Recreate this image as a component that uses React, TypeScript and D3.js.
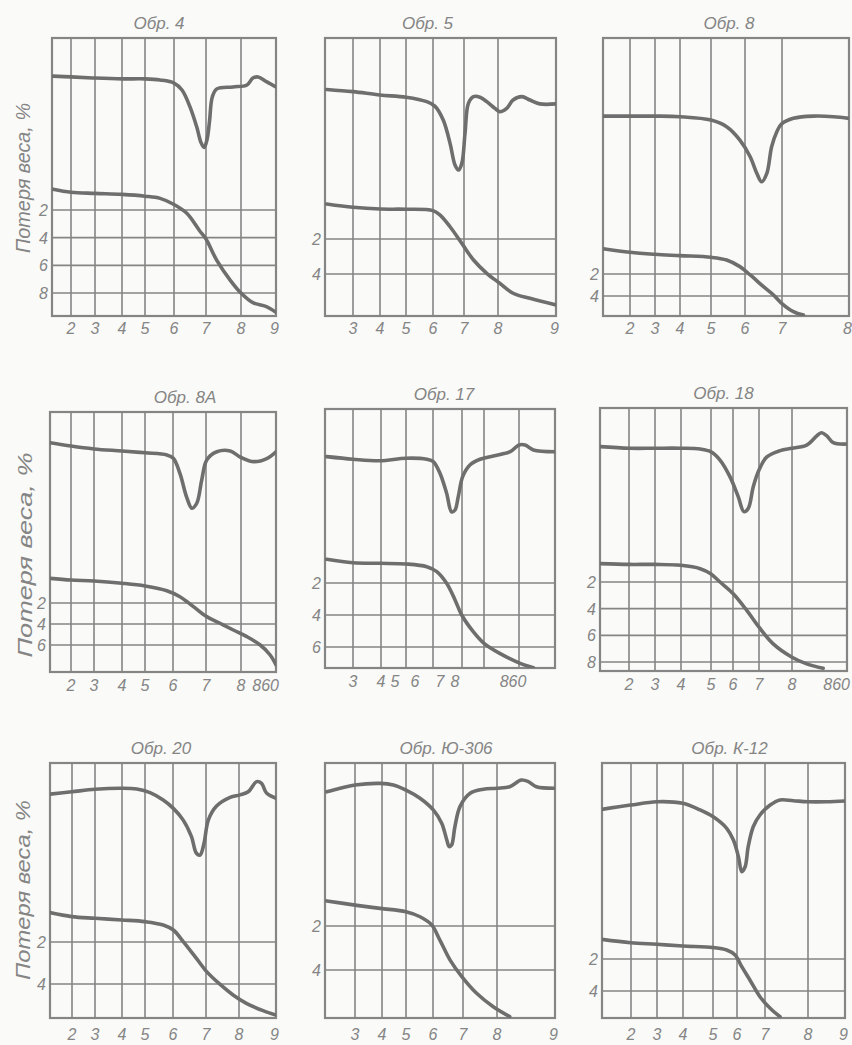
import React from 'react'
import * as d3 from 'd3'

// temperature in hundreds of °C; DTA in relative units (0 = frame bottom, 100 = frame top); TG in % weight loss
const dta4 = [[1.24,86.3],[2,86],[3,85.6],[4,85.3],[5,85.3],[5.52,84.9],[6,83.8],[6.25,81.3],[6.5,75.2],[6.72,67.6],[6.84,62.5],[6.94,60.6],[7.03,63.5],[7.1,70],[7.18,78.8],[7.31,81.7],[7.77,82.4],[8.17,83.1],[8.34,85.6],[8.49,86],[8.74,84.2],[9,82.4]]
const tg4 = [[1.24,0.5],[2,0.72],[3,0.8],[4,0.87],[5,1],[5.52,1.16],[6,1.6],[6.4,2.24],[6.8,3.5],[7,4.1],[7.3,5.6],[7.7,7.1],[8,8],[8.34,8.7],[8.74,9],[9,9.4]]

const dta5 = [[2.06,81.5],[3,80.7],[4,79.5],[5,78.7],[5.77,77.1],[6.06,75.5],[6.33,70.5],[6.55,62.1],[6.71,54.3],[6.82,52.5],[6.93,54.9],[7.03,65.7],[7.13,76.5],[7.28,78.9],[7.47,78.7],[7.67,77.1],[7.91,74.7],[8.03,73.5],[8.15,74.7],[8.26,77.7],[8.41,78.9],[8.55,77.7],[8.72,76.3],[9,76.3]]
const tg5 = [[2.06,0],[3,0.19],[4,0.29],[5,0.3],[6,0.38],[6.23,0.63],[6.55,1.3],[6.93,2.25],[7.28,3.2],[7.67,3.96],[8.03,4.53],[8.26,5.1],[8.55,5.39],[9,5.77]]

const dta8 = [[1.01,71.9],[2,71.9],[3,71.9],[4,71.7],[5,70.5],[5.46,68.1],[5.85,63.3],[6.14,57.3],[6.32,51.3],[6.45,48.3],[6.59,51.3],[6.72,60.9],[6.86,66.3],[6.99,69.1],[7.17,71.1],[7.47,71.9],[7.77,71.7],[8,71.1]]
const tg8 = [[1.01,-0.3],[2,0.03],[3,0.21],[4,0.33],[5,0.48],[5.46,0.73],[5.85,1.33],[6.14,2.09],[6.5,3.15],[6.77,3.91],[6.99,4.66],[7.17,5.42],[7.32,5.73]]

const dta8a = [[1.2,88.2],[2,86.9],[3,85.8],[4,85],[5,84.3],[5.78,83.5],[6.01,82.2],[6.21,76.4],[6.41,67.4],[6.57,63],[6.72,64.9],[6.87,73.8],[7.02,81.5],[7.31,84.7],[7.69,85],[7.99,82.6],[8.22,80.9],[8.45,82.2],[8.6,84.7]]
const tg8a = [[1.2,-0.35],[2,-0.19],[3,-0.1],[4,0.12],[5,0.38],[5.78,0.83],[6.21,1.4],[6.62,2.35],[7.02,3.3],[7.4,3.93],[7.78,4.57],[8.1,5.2],[8.33,6],[8.5,6.95],[8.6,7.9]]

const dta17 = [[2.06,81.6],[3,80.6],[3.96,80],[5,81],[5.77,80.6],[6.01,79.7],[6.24,75.2],[6.47,67.5],[6.64,60.3],[6.76,61],[6.87,66.1],[7.03,73.9],[7.36,78.4],[7.82,80.6],[8.16,81.9],[8.45,83.5],[8.6,86.1],[8.7,86.1],[8.84,84.2],[9.2,83.5]]
const tg17 = [[2.06,0.52],[3,0.73],[3.96,0.77],[5,0.81],[5.77,0.98],[6.13,1.29],[6.47,2.02],[6.76,3.06],[6.99,4],[7.51,5.04],[8,5.77],[8.27,6.4],[8.62,7.02],[8.84,7.29]]

const dta18 = [[1,85.3],[2.01,84.7],[3,84.7],[3.99,84.7],[4.64,84.4],[4.99,83.4],[5.41,80.2],[5.86,73.9],[6.2,66.3],[6.42,60.6],[6.59,61.9],[6.78,70.1],[7,76.4],[7.23,81.3],[7.64,83.8],[8,84.7],[8.16,85.9],[8.27,89.4],[8.32,90.6],[8.38,89.4],[8.45,86.8],[8.6,86.3]]
const tg18 = [[1,0.62],[2.01,0.68],[3,0.68],[3.99,0.75],[4.64,1],[4.99,1.38],[5.41,2],[6.01,2.88],[6.53,4.13],[7,5.39],[7.43,6.64],[8,7.64],[8.16,8.14],[8.34,8.47]]

const dta20 = [[1.2,87.8],[1.99,88.7],[3,89.7],[3.99,90.1],[4.64,89.8],[5.18,88.4],[5.65,85.5],[6.01,82.2],[6.31,77.6],[6.56,71.1],[6.71,64.6],[6.82,63.9],[6.94,68.5],[7.07,77.6],[7.32,83.1],[7.73,86.5],[8.03,87.5],[8.25,88.7],[8.48,92.7],[8.61,92],[8.75,88.1],[9,86.2]]
const tg20 = [[1.2,0.6],[1.99,0.79],[3,0.87],[3.99,0.95],[5,1.03],[5.65,1.19],[6.01,1.43],[6.31,1.98],[6.71,2.78],[7.02,3.41],[7.42,4.01],[7.82,4.52],[8.2,4.92],[8.65,5.27],[9,5.48]]

const dtaU306 = [[2.06,88.7],[2.5,90.1],[3,91.4],[3.93,92],[4.47,91.4],[5,89.4],[5.52,86.2],[6.01,81.6],[6.29,76.4],[6.46,69.8],[6.54,67.2],[6.62,67.8],[6.73,75],[6.9,82.9],[7.21,88.1],[7.6,89.7],[7.99,90.1],[8.22,90.7],[8.42,93.3],[8.54,92.7],[8.68,90.7],[9,90.1]]
const tgU306 = [[2.06,0.86],[3,1.05],[3.93,1.2],[5,1.35],[5.52,1.58],[5.95,1.95],[6.23,2.64],[6.57,3.55],[6.96,4.3],[7.4,5.06],[7.89,5.67],[8.22,6.12]]

const dtaK12 = [[0.99,81.8],[1.99,83.5],[2.99,84.8],[3.99,84.2],[4.57,81.6],[5.01,78.9],[5.57,74.4],[5.85,69.8],[6.05,63.3],[6.17,57.4],[6.29,59.3],[6.4,67.2],[6.58,75],[6.82,79.6],[7.12,83.5],[7.35,85.5],[7.66,85.2],[8,84.8],[8.5,84.8],[9,85.1]]
const tgK12 = [[0.99,0.77],[1.99,0.98],[2.99,1.08],[3.99,1.19],[5.01,1.29],[5.57,1.44],[5.92,1.75],[6.17,2.48],[6.46,3.31],[6.82,4.36],[7.12,5.08],[7.35,5.61]]

const titles = ['Обр. 4', 'Обр. 5', 'Обр. 8', 'Обр. 8А', 'Обр. 17', 'Обр. 18', 'Обр. 20', 'Обр. Ю-306', 'Обр. К-12']

const xLabels = [
  ['2', '3', '4', '5', '6', '7', '8', '9'],
  ['3', '4', '5', '6', '7', '8', '9'],
  ['2', '3', '4', '5', '6', '7', '8'],
  ['2', '3', '4', '5', '6', '7', '8', '860'],
  ['3', '4', '5', '6', '7', '8', '860'],
  ['2', '3', '4', '5', '6', '7', '8', '860'],
  ['2', '3', '4', '5', '6', '7', '8', '9'],
  ['3', '4', '5', '6', '7', '8', '9'],
  ['2', '3', '4', '5', '6', '7', '8', '9'],
]

const tgTicks = [[2, 4, 6, 8], [2, 4], [2, 4], [2, 4, 6], [2, 4, 6], [2, 4, 6, 8], [2, 4], [2, 4], [2, 4]]

// temperature grid of each panel (edges + grid lines); the printed scale is not uniform
const xTemps = [
  [1.2, 2, 3, 4, 5, 6, 7, 8, 9],
  [2, 3, 4, 5, 6, 7, 8, 9],
  [1, 2, 3, 4, 5, 6, 7, 8],
  [1.2, 2, 3, 4, 5, 6, 7, 8, 8.6],
  [2, 3, 4, 5, 6, 7, 8, 8.6, 9.2],
  [1, 2, 3, 4, 5, 6, 7, 8, 8.6],
  [1.2, 2, 3, 4, 5, 6, 7, 8, 9],
  [2, 3, 4, 5, 6, 7, 8, 9],
  [1, 2, 3, 4, 5, 6, 7, 8, 9],
]

const dtaData = [dta4, dta5, dta8, dta8a, dta17, dta18, dta20, dtaU306, dtaK12]
const tgData = [tg4, tg5, tg8, tg8a, tg17, tg18, tg20, tgU306, tgK12]

// ---- layout ----
const frames = [
  [52, 38, 276, 316], [325, 38, 556, 316], [603, 38, 849, 316],
  [50, 412, 276, 672], [325, 409, 555, 668], [600, 408, 847, 671],
  [50, 763, 276, 1018], [325, 763, 555, 1018], [602, 763, 845, 1018],
]
const xPix = [
  [52, 71, 95, 122, 145, 174, 206, 241, 276],
  [325, 353, 380, 406, 433, 464, 498, 556],
  [603, 630, 655, 680, 711, 745, 782, 849],
  [50, 71, 94, 122, 145, 173, 206, 241, 276],
  [325, 353, 381, 406, 433, 462, 484, 519, 555],
  [600, 629, 655, 681, 711, 733, 759, 792, 847],
  [50, 72, 95, 122, 145, 173, 206, 239, 276],
  [325, 355, 382, 406, 433, 463, 497, 555],
  [602, 631, 657, 683, 713, 737, 765, 808, 845],
]
// y pixel of first and last TG grid line
const tgPix = [[210, 293], [239, 274], [274, 296], [603, 645], [583, 647], [582, 662], [942, 984], [926, 970], [959, 991]]
const titleDx = [-5, -13, 3, 22, 4, 0, -2, 6, 6]
const labelDy = [18, 18, 18, 19, 19, 19, 22, 22, 22]
const labelDx = [null, null, null, null, [0, 0, -11, -18, -22, -29, -6], null, null, null, null]
const yTitles = [
  { x: 30, y: 178, len: 150 },
  { x: 32, y: 555, len: 205 },
  { x: 30, y: 890, len: 180 },
]

const INK = '#858585'
const CURVE = '#6e6e6e'
const FONT = '"Liberation Sans", Arial, sans-serif'

const Panel = ({ i }: { i: number }) => {
  const [l, t, r, b] = frames[i]
  const x = d3.scaleLinear().domain(xTemps[i]).range(xPix[i])
  const ticks = tgTicks[i]
  const yTg = d3.scaleLinear().domain([ticks[0], ticks[ticks.length - 1]]).range(tgPix[i])
  const yDta = d3.scaleLinear().domain([0, 100]).range([b, t])
  const curve = d3.curveCatmullRom.alpha(0.5)
  const dtaLine = d3.line<number[]>().x(d => x(d[0])).y(d => yDta(d[1])).curve(curve)
  const tgLine = d3.line<number[]>().x(d => x(d[0])).y(d => yTg(d[1])).curve(curve)
  const temps = xTemps[i]
  const tMax = temps[temps.length - 1]
  const clipId = `clip${i}`

  return (
    <g>
      <clipPath id={clipId}>
        <rect x={l} y={t} width={r - l} height={b - t} />
      </clipPath>
      <text x={(l + r) / 2 + titleDx[i]} y={t - 9} textAnchor="middle" fontSize={17}
        fontStyle="italic" fill={INK} fontFamily={FONT}>{titles[i]}</text>
      {temps.slice(1, -1).map((tv, k) => (
        <line key={'v' + k} x1={x(tv)} x2={x(tv)} y1={t} y2={b} stroke={INK} strokeWidth={1.6} />
      ))}
      {ticks.map(v => (
        <line key={'h' + v} x1={l} x2={r} y1={yTg(v)} y2={yTg(v)} stroke={INK} strokeWidth={1.6} />
      ))}
      <rect x={l} y={t} width={r - l} height={b - t} fill="none" stroke={INK} strokeWidth={2.2} />
      <g clipPath={`url(#${clipId})`}>
        <path d={dtaLine(dtaData[i]) || ''} fill="none" stroke={CURVE} strokeWidth={3.6} strokeLinecap="round" />
        <path d={tgLine(tgData[i]) || ''} fill="none" stroke={CURVE} strokeWidth={3.6} strokeLinecap="round" />
      </g>
      {ticks.map(v => (
        <text key={'yl' + v} x={l - 4} y={yTg(v) + 6} textAnchor="end" fontSize={16}
          fontStyle="italic" fill={INK} fontFamily={FONT}>{v}</text>
      ))}
      {xLabels[i].map((s, k) => {
        const tv = s.length === 3 ? +s / 100 : +s
        const atEdge = tv >= tMax
        const dx = labelDx[i] ? labelDx[i]![k] : 0
        return (
          <text key={'xl' + k} x={atEdge ? r + 3 : x(tv) + dx} y={b + labelDy[i]}
            textAnchor={atEdge ? 'end' : 'middle'} fontSize={16} fontStyle="italic"
            fill={INK} fontFamily={FONT}>{s}</text>
        )
      })}
    </g>
  )
}

export default function App() {
  return (
    <svg width={852} height={1045} style={{ position: 'absolute', left: 0, top: 0 }}>
      <rect width={852} height={1045} fill="#fafaf8" />
      {yTitles.map((p, k) => (
        <text key={k} transform={`translate(${p.x},${p.y}) rotate(-90)`} textAnchor="middle"
          fontSize={20} fontStyle="italic" fill={INK} fontFamily={FONT}
          textLength={p.len} lengthAdjust="spacingAndGlyphs">Потеря веса, %</text>
      ))}
      {titles.map((_, i) => <Panel key={i} i={i} />)}
    </svg>
  )
}
